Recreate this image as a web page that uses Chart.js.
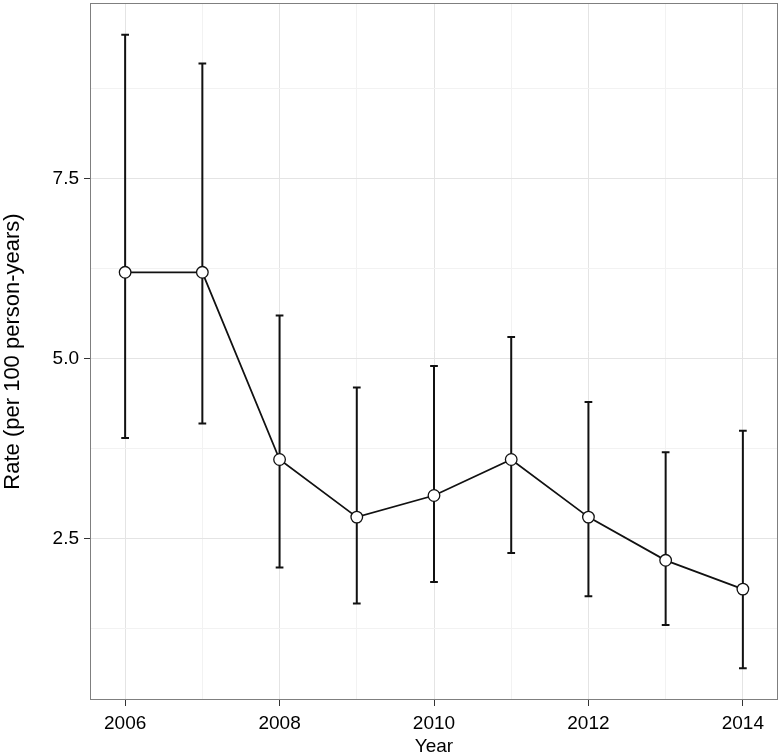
<!DOCTYPE html>
<html>
<head>
<meta charset="utf-8">
<script src="https://cdn.jsdelivr.net/npm/chart.js@4.4.1/dist/chart.umd.min.js"></script>
<style>
  body { margin: 0; background: #fff; }
  canvas { display: block; }
</style>
</head>
<body>
<canvas id="rateChart" width="780" height="756"></canvas>
<script>
// data
const years = [2006, 2007, 2008, 2009, 2010, 2011, 2012, 2013, 2014];
const rate = [6.2, 6.2, 3.6, 2.8, 3.1, 3.6, 2.8, 2.2, 1.8];
const lower = [3.9, 4.1, 2.1, 1.6, 1.9, 2.3, 1.7, 1.3, 0.7];
const upper = [9.5, 9.1, 5.6, 4.6, 4.9, 5.3, 4.4, 3.7, 4.0];

const xMajor = [2006, 2008, 2010, 2012, 2014];
const xMinor = [2007, 2009, 2011, 2013];
const yMajor = [2.5, 5.0, 7.5];
const yMinor = [1.25, 3.75, 6.25, 8.75];

const FONT = "'Liberation Sans', Arial, Helvetica, sans-serif";
const capHalf = 0.05; // errorbar width 0.1 year

// error bars + panel border, drawn through the scales
const errorBars = {
    id: 'errorBars',
    beforeDatasetsDraw(chart) {
        const { ctx, scales: { x, y } } = chart;
        ctx.save();
        ctx.strokeStyle = '#111';
        ctx.lineWidth = 2;
        years.forEach((yr, i) => {
            const px = x.getPixelForValue(yr);
            const pl = x.getPixelForValue(yr - capHalf);
            const pr = x.getPixelForValue(yr + capHalf);
            const top = y.getPixelForValue(upper[i]);
            const bot = y.getPixelForValue(lower[i]);
            ctx.beginPath();
            ctx.moveTo(px, top); ctx.lineTo(px, bot);
            ctx.moveTo(pl, top); ctx.lineTo(pr, top);
            ctx.moveTo(pl, bot); ctx.lineTo(pr, bot);
            ctx.stroke();
        });
        ctx.restore();
    },
    afterDraw(chart) {
        const { ctx, chartArea: a } = chart;
        ctx.save();
        ctx.strokeStyle = '#7f7f7f';
        ctx.lineWidth = 1;
        ctx.strokeRect(a.left + 0.5, a.top + 0.5, a.right - a.left - 1, a.bottom - a.top - 1);
        ctx.restore();
    }
};

const gridColor = (major) => (c) => major.includes(c.tick && c.tick.value) ? '#e4e4e4' : '#f2f2f2';
const tickColor = (major) => (c) => major.includes(c.tick && c.tick.value) ? '#333' : 'rgba(0,0,0,0)';

new Chart(document.getElementById('rateChart'), {
    type: 'line',
    data: {
        datasets: [{
            data: years.map((yr, i) => ({ x: yr, y: rate[i] })),
            borderColor: '#111',
            borderWidth: 1.8,
            pointRadius: 5.8,
            pointBorderWidth: 1.3,
            pointBackgroundColor: '#fff',
            pointBorderColor: '#111',
            tension: 0
        }]
    },
    options: {
        responsive: false,
        animation: false,
        devicePixelRatio: 1,
        layout: { autoPadding: false, padding: { top: 3, right: 2, left: 0, bottom: 0 } },
        plugins: { legend: { display: false }, tooltip: { enabled: false } },
        scales: {
            x: {
                type: 'linear',
                min: 2005.545,
                max: 2014.455,
                afterBuildTicks: (s) => { s.ticks = [...xMajor, ...xMinor].sort((a, b) => a - b).map(v => ({ value: v })); },
                afterFit: (s) => { s.height = 56; s.paddingLeft = 0; s.paddingRight = 0; },
                ticks: {
                    autoSkip: false, maxRotation: 0, padding: 6,
                    color: '#000', font: { family: FONT, size: 19 },
                    callback: (v) => xMajor.includes(v) ? String(v) : ''
                },
                grid: { color: gridColor(xMajor), tickColor: tickColor(xMajor), tickLength: 6, lineWidth: 1 },
                border: { display: false },
                title: { display: true, text: 'Year', color: '#000', font: { family: FONT, size: 19 }, padding: { top: 0, bottom: -2 } }
            },
            y: {
                min: 0.26,
                max: 9.94,
                afterBuildTicks: (s) => { s.ticks = [...yMajor, ...yMinor].sort((a, b) => a - b).map(v => ({ value: v })); },
                afterFit: (s) => { s.width = 90; s.paddingTop = 0; s.paddingBottom = 0; },
                ticks: {
                    autoSkip: false, padding: 5,
                    color: '#000', font: { family: FONT, size: 19 },
                    callback: (v) => yMajor.includes(v) ? v.toFixed(1) : ''
                },
                grid: { color: gridColor(yMajor), tickColor: tickColor(yMajor), tickLength: 6, lineWidth: 1 },
                border: { display: false },
                title: { display: true, text: 'Rate (per 100 person-years)', color: '#000', font: { family: FONT, size: 22 }, padding: { top: 0, bottom: 0 } }
            }
        }
    },
    plugins: [errorBars]
});
</script>
</body>
</html>
